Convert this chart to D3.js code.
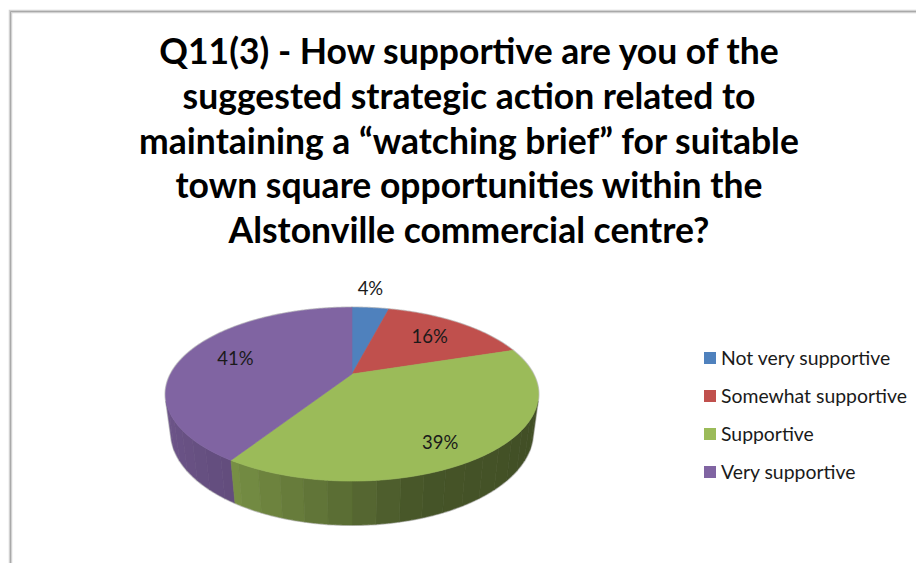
<!DOCTYPE html>
<html>
<head>
<meta charset="utf-8">
<script src="https://cdn.jsdelivr.net/npm/d3@7"></script>
<style>
  html, body { margin: 0; padding: 0; background: #fff; }
  svg { display: block; }
</style>
</head>
<body>
<script>
// Survey responses, Q11(3)
const categories = ["Not very supportive", "Somewhat supportive", "Supportive", "Very supportive"];
const values = [4, 16, 39, 41];
const colors = ["#4F81BD", "#C0504D", "#9BBB59", "#8064A2"];
const valueLabels = ["4%", "16%", "39%", "41%"];
const titleLines = [
  "Q11(3) - How supportive are you of the",
  "suggested strategic action related to",
  "maintaining a \u201cwatching brief\u201d for suitable",
  "town square opportunities within the",
  "Alstonville commercial centre?"
];

const W = 916, H = 563;
const FONT = "Lato, 'Open Sans', 'DejaVu Sans', sans-serif";

const svg = d3.select("body").append("svg")
  .attr("width", W).attr("height", H);

svg.append("rect").attr("width", W).attr("height", H).attr("fill", "#fff");

// chart area frame (top and left edges visible)
svg.append("path")
  .attr("d", `M10.5,${H + 5} V11.5 H${W + 5}`)
  .attr("fill", "none").attr("stroke", "#d2d2d2").attr("stroke-width", 3.5);
svg.append("path")
  .attr("d", `M10.5,${H + 5} V11.5 H${W + 5}`)
  .attr("fill", "none").attr("stroke", "#a9a9a9").attr("stroke-width", 1);

// title
const title = svg.append("text")
  .attr("x", 469)
  .attr("text-anchor", "middle")
  .attr("font-family", FONT)
  .attr("font-weight", "bold")
  .attr("font-size", 35.5)
  .attr("fill", "#000");
titleLines.forEach((line, i) => {
  title.append("tspan").attr("x", 469).attr("y", 64 + i * 44.75).text(line);
});

// 3D pie: a disc seen from above with perspective
const cam = { cx: 352, cy: 374, f: 690, D: 3.807, tilt: 26.9 * Math.PI / 180, depth: 0.234 };
const sA = Math.sin(cam.tilt), cA = Math.cos(cam.tilt);
function proj(theta, r, Y) {
  const x = r * Math.sin(theta), z = -r * Math.cos(theta);
  const dist = cam.D - z * cA - Y * sA;
  const yr = z * sA - Y * cA;
  return [cam.cx + cam.f * x / dist, cam.cy + cam.f * yr / dist, dist];
}
function arcPts(a0, a1, Y) {
  const n = Math.max(2, Math.ceil(Math.abs(a1 - a0) / (0.5 * Math.PI / 180)));
  return d3.range(n + 1).map(i => proj(a0 + (a1 - a0) * i / n, 1, Y));
}

const pie = d3.pie().sort(null).startAngle(0).endAngle(2 * Math.PI);
const arcs = pie(values);

// side wall shading by facing angle (degrees)
const shade = d3.scaleLinear()
  .domain([100, 163, 185, 212, 255])
  .range([0.41, 0.45, 0.60, 0.77, 0.86])
  .clamp(true);
function shadeColor(c, k) {
  const q = d3.rgb(c);
  return d3.rgb(q.r * k, q.g * k, q.b * k).formatHex();
}

const band = 6 * Math.PI / 180;
const walls = [];
const tops = [];
arcs.forEach((a, i) => {
  const top = [[cam.cx, cam.cy]].concat(arcPts(a.startAngle, a.endAngle, 0).map(p => [p[0], p[1]]));
  tops.push({ i, pts: top });
  // split the outer wall into bands aligned to a fixed angular grid
  const cuts = [a.startAngle];
  for (let t = Math.ceil(a.startAngle / band) * band; t < a.endAngle; t += band) {
    if (t > a.startAngle + 1e-6) cuts.push(t);
  }
  cuts.push(a.endAngle);
  for (let k = 0; k < cuts.length - 1; k++) {
    const b0 = cuts[k], b1 = cuts[k + 1];
    const upper = arcPts(b0, b1, 0);
    const lower = arcPts(b1, b0, -cam.depth);
    const pts = upper.concat(lower).map(p => [p[0], p[1]]);
    if (d3.polygonArea(pts) <= 0) continue; // faces away from the viewer
    const mid = (b0 + b1) / 2;
    walls.push({
      i, pts,
      dist: proj(mid, 1, 0)[2],
      color: shadeColor(colors[i], shade(mid * 180 / Math.PI))
    });
  }
});
walls.sort((a, b) => b.dist - a.dist);

const line = d3.line();
const pieG = svg.append("g");

// soft grey rim around the solid
const halo = pieG.append("g");
walls.concat(tops).forEach(w => halo.append("path").attr("d", line(w.pts) + "Z")
  .attr("fill", "#c8c8c8").attr("stroke", "#c8c8c8").attr("stroke-width", 2.2).attr("stroke-linejoin", "round"));

walls.forEach(w => pieG.append("path").attr("d", line(w.pts) + "Z")
  .attr("fill", w.color).attr("stroke", w.color).attr("stroke-width", 0.6).attr("stroke-linejoin", "round"));
tops.forEach(t => pieG.append("path").attr("d", line(t.pts) + "Z")
  .attr("fill", colors[t.i]).attr("stroke", colors[t.i]).attr("stroke-width", 0.6).attr("stroke-linejoin", "round"));

// data labels: small slices sit just outside the rim, others inside the slice;
// front-facing slices are lowered toward their visible side wall
arcs.forEach((a, i) => {
  const mid = (a.startAngle + a.endAngle) / 2;
  let x, y;
  if (values[i] < 5) {
    const p = proj(mid, 1, 0);
    x = p[0]; y = p[1] - 19;
  } else {
    const p = proj(mid, 0.7, -cam.depth * 0.5 * Math.max(0, -Math.cos(mid)));
    x = p[0]; y = p[1];
  }
  svg.append("text")
    .attr("x", x).attr("y", y)
    .attr("dy", "0.35em")
    .attr("text-anchor", "middle")
    .attr("font-family", FONT)
    .attr("font-size", 18.5)
    .attr("fill", "#1a1a1a")
    .text(valueLabels[i]);
});

// legend
const legend = svg.append("g").attr("transform", "translate(704,358)");
categories.forEach((c, i) => {
  const g = legend.append("g").attr("transform", `translate(0,${i * 38})`);
  g.append("rect").attr("x", 0).attr("y", -6).attr("width", 12).attr("height", 12).attr("fill", colors[i]);
  g.append("text").attr("x", 17).attr("y", 0).attr("dy", "0.35em")
    .attr("font-family", FONT).attr("font-size", 19.4).attr("fill", "#1a1a1a").text(c);
});
</script>
</body>
</html>
